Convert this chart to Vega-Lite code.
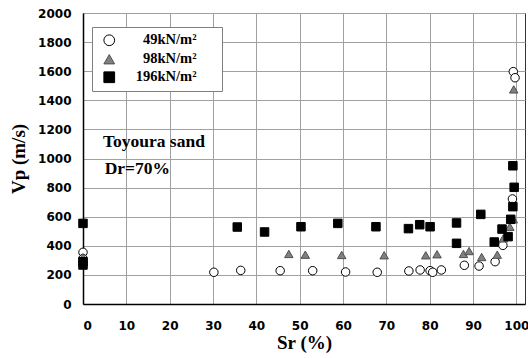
{
  "$schema": "https://vega.github.io/schema/vega-lite/v6.json",
  "width": 442,
  "height": 291,
  "autosize": {"type": "none"},
  "padding": {"left": 83, "top": 13, "right": 3, "bottom": 54},
  "background": "white",
  "config": {
    "view": {"stroke": "#333", "strokeWidth": 1},
    "axis": {
      "grid": true, "gridColor": "#a0a0a0", "gridWidth": 1, "gridOpacity": 1,
      "domainColor": "black", "domainWidth": 1.5,
      "ticks": false, "labelOverlap": false, "format": "d",
      "labelFont": "DejaVu Sans", "labelFontWeight": "bold", "labelFontSize": 12, "labelColor": "black",
      "titleFont": "Liberation Serif", "titleFontWeight": "bold", "titleFontSize": 19, "titleColor": "black"
    }
  },
  "datasets": {
    "pts": [
      {"Sr": 0, "Vp": 355, "P": "49kN/m²"},
      {"Sr": 0, "Vp": 312, "P": "49kN/m²"},
      {"Sr": 30.2, "Vp": 218, "P": "49kN/m²"},
      {"Sr": 36.4, "Vp": 231, "P": "49kN/m²"},
      {"Sr": 45.5, "Vp": 229, "P": "49kN/m²"},
      {"Sr": 53.0, "Vp": 229, "P": "49kN/m²"},
      {"Sr": 60.6, "Vp": 220, "P": "49kN/m²"},
      {"Sr": 67.9, "Vp": 218, "P": "49kN/m²"},
      {"Sr": 75.2, "Vp": 227, "P": "49kN/m²"},
      {"Sr": 77.8, "Vp": 234, "P": "49kN/m²"},
      {"Sr": 80.1, "Vp": 229, "P": "49kN/m²"},
      {"Sr": 80.7, "Vp": 218, "P": "49kN/m²"},
      {"Sr": 82.7, "Vp": 234, "P": "49kN/m²"},
      {"Sr": 88.0, "Vp": 266, "P": "49kN/m²"},
      {"Sr": 91.4, "Vp": 261, "P": "49kN/m²"},
      {"Sr": 95.1, "Vp": 291, "P": "49kN/m²"},
      {"Sr": 96.9, "Vp": 403, "P": "49kN/m²"},
      {"Sr": 99.1, "Vp": 722, "P": "49kN/m²"},
      {"Sr": 99.3, "Vp": 1597, "P": "49kN/m²"},
      {"Sr": 99.7, "Vp": 1555, "P": "49kN/m²"},
      {"Sr": 0, "Vp": 322, "P": "98kN/m²"},
      {"Sr": 0, "Vp": 292, "P": "98kN/m²"},
      {"Sr": 47.5, "Vp": 344, "P": "98kN/m²"},
      {"Sr": 51.3, "Vp": 339, "P": "98kN/m²"},
      {"Sr": 59.7, "Vp": 337, "P": "98kN/m²"},
      {"Sr": 69.5, "Vp": 335, "P": "98kN/m²"},
      {"Sr": 79.1, "Vp": 335, "P": "98kN/m²"},
      {"Sr": 81.7, "Vp": 342, "P": "98kN/m²"},
      {"Sr": 87.8, "Vp": 344, "P": "98kN/m²"},
      {"Sr": 89.1, "Vp": 364, "P": "98kN/m²"},
      {"Sr": 92.0, "Vp": 323, "P": "98kN/m²"},
      {"Sr": 95.6, "Vp": 339, "P": "98kN/m²"},
      {"Sr": 97.0, "Vp": 451, "P": "98kN/m²"},
      {"Sr": 98.5, "Vp": 531, "P": "98kN/m²"},
      {"Sr": 99.3, "Vp": 582, "P": "98kN/m²"},
      {"Sr": 99.4, "Vp": 1475, "P": "98kN/m²"},
      {"Sr": 0, "Vp": 554, "P": "196kN/m²"},
      {"Sr": 0, "Vp": 290, "P": "196kN/m²"},
      {"Sr": 0, "Vp": 268, "P": "196kN/m²"},
      {"Sr": 35.6, "Vp": 529, "P": "196kN/m²"},
      {"Sr": 41.9, "Vp": 495, "P": "196kN/m²"},
      {"Sr": 50.3, "Vp": 531, "P": "196kN/m²"},
      {"Sr": 58.8, "Vp": 554, "P": "196kN/m²"},
      {"Sr": 67.6, "Vp": 531, "P": "196kN/m²"},
      {"Sr": 75.1, "Vp": 518, "P": "196kN/m²"},
      {"Sr": 77.7, "Vp": 545, "P": "196kN/m²"},
      {"Sr": 80.1, "Vp": 531, "P": "196kN/m²"},
      {"Sr": 86.2, "Vp": 557, "P": "196kN/m²"},
      {"Sr": 86.2, "Vp": 417, "P": "196kN/m²"},
      {"Sr": 91.8, "Vp": 616, "P": "196kN/m²"},
      {"Sr": 94.9, "Vp": 426, "P": "196kN/m²"},
      {"Sr": 96.7, "Vp": 515, "P": "196kN/m²"},
      {"Sr": 98.1, "Vp": 463, "P": "196kN/m²"},
      {"Sr": 98.7, "Vp": 582, "P": "196kN/m²"},
      {"Sr": 99.2, "Vp": 669, "P": "196kN/m²"},
      {"Sr": 99.5, "Vp": 802, "P": "196kN/m²"},
      {"Sr": 99.2, "Vp": 950, "P": "196kN/m²"}
    ],
    "notes": [
      {"Sr": 4.6, "Vp": 1079, "t": "Toyoura sand"},
      {"Sr": 5.0, "Vp": 893, "t": "Dr=70%"}
    ]
  },
  "encoding": {
    "x": {"field": "Sr", "type": "quantitative", "title": "Sr (%)",
          "scale": {"domain": [0, 102], "nice": false},
          "axis": {"grid": true, "values": [0,10,20,30,40,50,60,70,80,90,100], "labelPadding": 16, "titlePadding": 2, "labelAngle": 0}},
    "y": {"field": "Vp", "type": "quantitative", "title": "Vp (m/s)",
          "scale": {"domain": [0, 2000], "nice": false},
          "axis": {"grid": true, "values": [0,200,400,600,800,1000,1200,1400,1600,1800,2000], "labelPadding": 12, "titlePadding": 9}}
  },
  "layer": [
    {
      "data": {"name": "pts"},
      "mark": {"type": "point", "filled": true, "size": 72, "strokeWidth": 1, "opacity": 1},
      "encoding": {
        "shape": {"field": "P", "type": "nominal", "title": "\u00a0",
                  "scale": {"domain": ["49kN/m²", "98kN/m²", "196kN/m²"], "range": ["circle", "triangle-up", "square"]},
                  "legend": {"orient": "none", "legendX": 9, "legendY": 14, "fillColor": "white", "strokeColor": "#808080",
                             "padding": 6, "rowPadding": 3, "symbolStrokeWidth": 1, "symbolOffset": 4, "symbolSize": 115,
                             "labelFont": "Liberation Serif", "labelFontWeight": "bold", "labelFontSize": 14.5, "labelColor": "black",
                             "labelAlign": "right", "labelOffset": 80, "labelLimit": 200,
                             "titleOrient": "right", "titlePadding": 19, "titleFontSize": 12, "titleColor": "white"}},
        "fill": {"field": "P", "type": "nominal", "title": "\u00a0",
                 "scale": {"domain": ["49kN/m²", "98kN/m²", "196kN/m²"], "range": ["white", "#808080", "black"]}},
        "stroke": {"field": "P", "type": "nominal", "title": "\u00a0",
                   "scale": {"domain": ["49kN/m²", "98kN/m²", "196kN/m²"], "range": ["black", "#505050", "black"]}}
      }
    },
    {
      "data": {"name": "notes"},
      "mark": {"type": "text", "align": "left", "baseline": "alphabetic", "font": "Liberation Serif", "fontWeight": "bold", "fontSize": 17.5, "color": "black"},
      "encoding": {
        "text": {"field": "t"}
      }
    }
  ]
}
